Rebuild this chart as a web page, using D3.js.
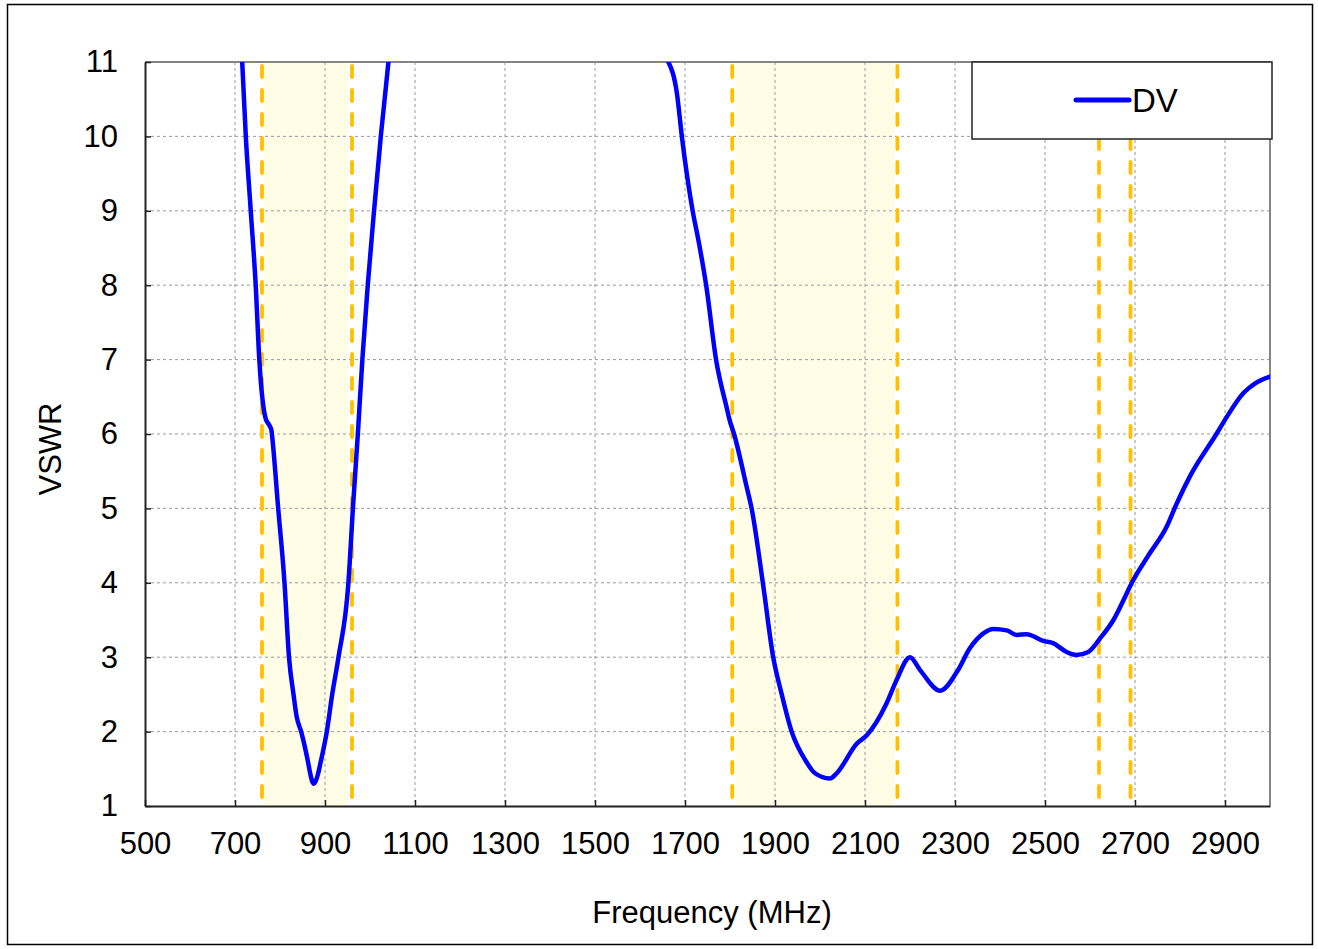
<!DOCTYPE html>
<html>
<head>
<meta charset="utf-8">
<script src="https://cdn.jsdelivr.net/npm/d3@7"></script>
<style>
    body { margin: 0; background: #fff; }
    text { font-family: "Liberation Sans", Arial, sans-serif; fill: #000; }
</style>
</head>
<body>
<svg id="grafico" width="1318" height="949"></svg>
<script>
// dados
var freqBaixa = [716, 724, 735, 746, 754, 768, 776, 781, 782, 796, 810, 820, 830, 837, 847, 862, 867, 871, 875, 879, 884, 890, 904, 916, 930, 952, 962, 973, 983, 995, 1009, 1024, 1041];
var vswrBaixa = [11, 10, 9, 8, 7, 6.21, 6.12, 6.05, 6.0, 5, 4, 3, 2.5, 2.2, 2.0, 1.6, 1.44, 1.34, 1.3, 1.33, 1.42, 1.58, 2.0, 2.5, 3, 4, 5, 6, 7, 8, 9, 10, 11];

var freqAlta = [1663, 1682, 1693, 1717, 1730, 1747, 1769, 1794, 1799, 1809, 1837, 1848, 1873, 1896, 1915, 1937, 1967, 1989, 2022, 2037, 2082, 2104, 2148, 2170, 2200, 2222, 2267, 2304, 2333, 2363, 2385, 2415, 2437, 2459, 2496, 2518, 2548, 2570, 2596, 2622, 2652, 2681, 2693, 2730, 2770, 2793, 2822, 2882, 2904, 2941, 2967, 3000];
var vswrAlta = [11, 10.58, 10, 9, 8.6, 8, 7, 6.32, 6.19, 6.0, 5.29, 5, 4, 3, 2.5, 2.0, 1.62, 1.44, 1.37, 1.44, 1.84, 1.95, 2.38, 2.69, 3.0, 2.83, 2.55, 2.8, 3.12, 3.32, 3.38, 3.36, 3.3, 3.31, 3.22, 3.19, 3.07, 3.03, 3.07, 3.25, 3.5, 3.85, 4.0, 4.37, 4.75, 5.07, 5.43, 6.01, 6.23, 6.55, 6.68, 6.77];

var faixaInicio = [765, 1812];
var faixaFim = [950, 2166];
var marcadores = [760, 960, 1805, 2172, 2620, 2690];

var ticksX = [500, 700, 900, 1100, 1300, 1500, 1700, 1900, 2100, 2300, 2500, 2700, 2900];
var ticksY = [1, 2, 3, 4, 5, 6, 7, 8, 9, 10, 11];
var nomeSerie = "DV";

var svg = d3.select("#grafico");
var margem = { esq: 145, dir: 1270, topo: 62, base: 806 };

var x = d3.scaleLinear().domain([500, 3000]).range([margem.esq, margem.dir]);
var y = d3.scaleLinear().domain([1, 11]).range([margem.base, margem.topo]);

// moldura externa
svg.append("rect")
    .attr("x", 7.5).attr("y", 4.5)
    .attr("width", 1305).attr("height", 940)
    .attr("fill", "none")
    .attr("stroke", "#000")
    .attr("stroke-width", 1.5);

// faixas sombreadas
svg.selectAll("rect.faixa")
    .data(faixaInicio)
    .enter()
    .append("rect")
    .attr("class", "faixa")
    .attr("x", function (d) { return x(d); })
    .attr("y", margem.topo)
    .attr("width", function (d, i) { return x(faixaFim[i]) - x(d); })
    .attr("height", margem.base - margem.topo)
    .attr("fill", "#fffde6");

// grade
svg.append("g")
    .selectAll("line")
    .data(ticksX.slice(1))
    .enter()
    .append("line")
    .attr("x1", function (d) { return x(d); })
    .attr("x2", function (d) { return x(d); })
    .attr("y1", margem.topo)
    .attr("y2", margem.base)
    .attr("stroke", "#9a9a9a")
    .attr("stroke-width", 1)
    .attr("stroke-dasharray", "3,3");

svg.append("g")
    .selectAll("line")
    .data(ticksY.slice(1, -1))
    .enter()
    .append("line")
    .attr("x1", margem.esq)
    .attr("x2", margem.dir)
    .attr("y1", function (d) { return y(d); })
    .attr("y2", function (d) { return y(d); })
    .attr("stroke", "#9a9a9a")
    .attr("stroke-width", 1)
    .attr("stroke-dasharray", "3,3");

// linhas tracejadas laranja
svg.append("g")
    .selectAll("line")
    .data(marcadores)
    .enter()
    .append("line")
    .attr("x1", function (d) { return x(d); })
    .attr("x2", function (d) { return x(d); })
    .attr("y1", margem.topo + 4)
    .attr("y2", margem.base)
    .attr("stroke", "#ffc000")
    .attr("stroke-width", 3.8)
    .attr("stroke-linecap", "round")
    .attr("stroke-dasharray", "11,13");

// borda superior e direita
svg.append("line")
    .attr("x1", margem.esq).attr("x2", margem.dir + 1)
    .attr("y1", margem.topo).attr("y2", margem.topo)
    .attr("stroke", "#858585").attr("stroke-width", 2);
svg.append("line")
    .attr("x1", margem.dir).attr("x2", margem.dir)
    .attr("y1", margem.topo).attr("y2", margem.base)
    .attr("stroke", "#858585").attr("stroke-width", 2);

// curva
svg.append("clipPath").attr("id", "recorte")
    .append("rect")
    .attr("x", margem.esq).attr("y", margem.topo)
    .attr("width", margem.dir - margem.esq).attr("height", margem.base - margem.topo);

var linha = d3.line()
    .x(function (d) { return x(d[0]); })
    .y(function (d) { return y(d[1]); })
    .curve(d3.curveMonotoneX);

var trechos = [d3.zip(freqBaixa, vswrBaixa), d3.zip(freqAlta, vswrAlta)];
svg.append("g")
    .attr("clip-path", "url(#recorte)")
    .selectAll("path")
    .data(trechos)
    .enter()
    .append("path")
    .attr("d", linha)
    .attr("fill", "none")
    .attr("stroke", "#0000ff")
    .attr("stroke-width", 4.5)
    .attr("stroke-linejoin", "round")
    .attr("stroke-linecap", "round");

// eixos
var eixoX = d3.axisBottom(x).tickValues(ticksX).tickFormat(d3.format("d"))
    .tickSizeInner(-6).tickSizeOuter(0).tickPadding(26);
var gX = svg.append("g")
    .attr("transform", "translate(0," + margem.base + ")")
    .call(eixoX);
gX.select(".domain").attr("stroke", "#222").attr("stroke-width", 2);
gX.selectAll(".tick line").attr("stroke", "#222").attr("stroke-width", 1.5);
gX.selectAll("text").style("font-size", "31px").attr("fill", "#000");

var eixoY = d3.axisLeft(y).tickValues(ticksY).tickFormat(d3.format("d"))
    .tickSizeInner(-6).tickSizeOuter(0).tickPadding(27);
var gY = svg.append("g")
    .attr("transform", "translate(" + margem.esq + ",0)")
    .call(eixoY);
gY.select(".domain").attr("stroke", "#222").attr("stroke-width", 2);
gY.selectAll(".tick line").attr("stroke", "#222").attr("stroke-width", 1.5);
gY.selectAll("text").style("font-size", "31px").attr("fill", "#000");

// títulos dos eixos
svg.append("text")
    .attr("x", 712)
    .attr("y", 923)
    .attr("text-anchor", "middle")
    .style("font-size", "31px")
    .text("Frequency (MHz)");

svg.append("text")
    .attr("transform", "translate(61," + 449 + ") rotate(-90)")
    .attr("text-anchor", "middle")
    .style("font-size", "31px")
    .text("VSWR");

// legenda
var legenda = svg.append("g").attr("transform", "translate(972,62)");
legenda.append("rect")
    .attr("width", 300).attr("height", 77)
    .attr("fill", "#fff")
    .attr("stroke", "#222")
    .attr("stroke-width", 1.5);
legenda.append("line")
    .attr("x1", 104).attr("x2", 157)
    .attr("y1", 38).attr("y2", 38)
    .attr("stroke", "#0000ff")
    .attr("stroke-width", 5)
    .attr("stroke-linecap", "round");
legenda.append("text")
    .attr("x", 160).attr("y", 50)
    .style("font-size", "33px")
    .text(nomeSerie);
</script>
</body>
</html>
